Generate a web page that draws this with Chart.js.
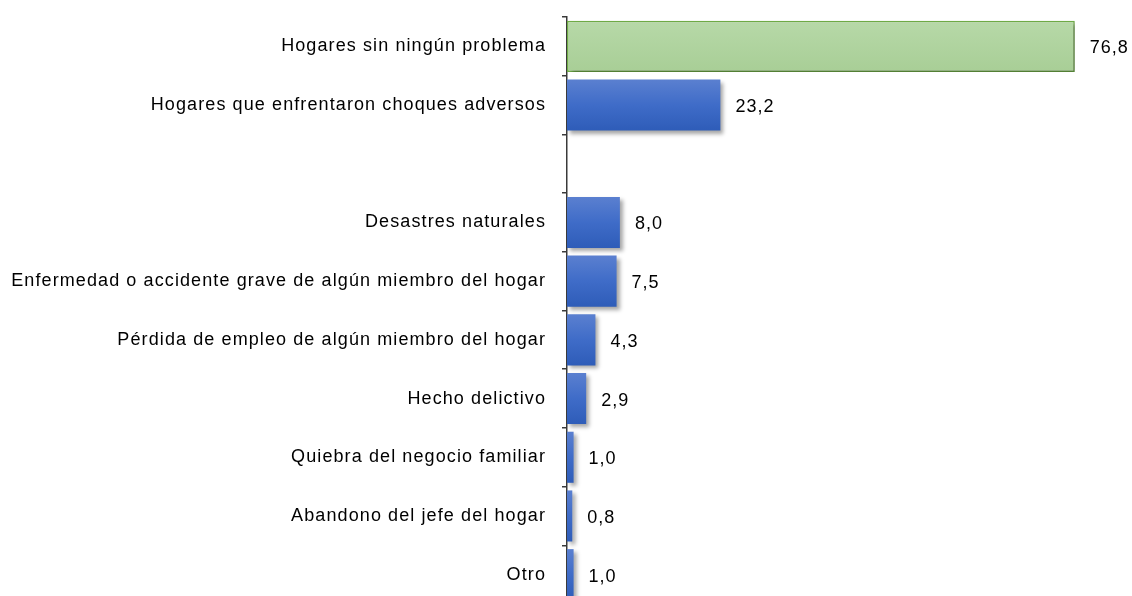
<!DOCTYPE html>
<html>
<head>
<meta charset="utf-8">
<script src="https://cdn.jsdelivr.net/npm/chart.js@4.4.1/dist/chart.umd.min.js"></script>
<style>
  html, body { margin: 0; padding: 0; background: #fff; overflow: hidden; }
  #wrap { position: relative; width: 1132px; height: 610px; }
</style>
</head>
<body>
<div id="wrap"><canvas id="chart"></canvas></div>
<script>
const categories = [
  'Hogares sin ningún problema',
  'Hogares que enfrentaron choques adversos',
  '',
  'Desastres naturales',
  'Enfermedad o accidente grave de algún miembro del hogar',
  'Pérdida de empleo de algún miembro del hogar',
  'Hecho delictivo',
  'Quiebra del negocio familiar',
  'Abandono del jefe del hogar',
  'Otro',
];
const values = [76.8, 23.2, null, 8.0, 7.5, 4.3, 2.9, 1.0, 0.8, 1.0];

const TEXT = '#000';
const FONT = "'Liberation Sans', Arial, sans-serif";

function barGradient(context) {
  const chart = context.chart;
  const i = context.dataIndex;
  const green = i === 0;
  const yScale = chart.scales.y;
  if (!chart.chartArea || !yScale) return green ? '#b0d4a0' : '#3f6bc6';
  const center = yScale.getPixelForValue(i);
  const half = 26;
  const g = chart.ctx.createLinearGradient(0, center - half, 0, center + half);
  if (green) {
    g.addColorStop(0, '#b7d9a8');
    g.addColorStop(1, '#a8ce96');
  } else {
    g.addColorStop(0, '#5b80d0');
    g.addColorStop(0.5, '#3f6cc8');
    g.addColorStop(1, '#2e5cb8');
  }
  return g;
}

// drop shadow under the bars
const barShadow = {
  id: 'barShadow',
  beforeDatasetsDraw(chart) {
    const ctx = chart.ctx;
    ctx.save();
    ctx.shadowColor = 'rgba(0,0,0,0.35)';
    ctx.shadowOffsetX = 3;
    ctx.shadowOffsetY = 3;
    ctx.shadowBlur = 4;
  },
  afterDatasetsDraw(chart) {
    chart.ctx.restore();
  },
};

const textSpacing = {
  id: 'textSpacing',
  beforeDraw(chart) {
    chart.ctx.letterSpacing = '1.1px';
  },
};

// value labels at bar ends, comma decimal
const valueLabels = {
  id: 'valueLabels',
  afterDatasetsDraw(chart) {
    const ctx = chart.ctx;
    const meta = chart.getDatasetMeta(0);
    ctx.save();
    ctx.letterSpacing = '1px';
    ctx.font = '18px ' + FONT;
    ctx.fillStyle = TEXT;
    ctx.textAlign = 'left';
    ctx.textBaseline = 'middle';
    meta.data.forEach((bar, i) => {
      const v = values[i];
      if (v === null) return;
      ctx.fillText(v.toFixed(1).replace('.', ','), bar.x + 15, bar.y + 2);
    });
    ctx.restore();
  },
};

new Chart(document.getElementById('chart'), {
  type: 'bar',
  data: {
    labels: categories,
    datasets: [{
      data: values,
      backgroundColor: barGradient,
      borderColor: ctx => ctx.dataIndex === 0 ? '#70ad47' : 'rgba(0,0,0,0)',
      borderWidth: ctx => ctx.dataIndex === 0 ? 1.5 : 0,
      borderSkipped: false,
      categoryPercentage: 1,
      barPercentage: 0.87,
    }],
  },
  options: {
    indexAxis: 'y',
    responsive: true,
    maintainAspectRatio: false,
    animation: false,
    layout: { padding: { top: 17, bottom: 6, right: 3, left: 0 } },
    plugins: {
      legend: { display: false },
      tooltip: { enabled: false },
    },
    scales: {
      x: {
        display: false,
        min: 0,
        max: 85,
      },
      y: {
        afterFit: scale => {
          scale.width = 567;
          scale.paddingTop = 0;
          scale.paddingBottom = 0;
        },
        border: { display: true, color: '#3a3a3a', width: 1.5 },
        grid: {
          display: true,
          drawOnChartArea: false,
          drawTicks: true,
          tickLength: 5,
          color: '#3a3a3a',
          lineWidth: 1.5,
          offset: true,
        },
        ticks: {
          color: TEXT,
          padding: 16,
          autoSkip: false,
          font: { family: FONT, size: 18 },
        },
      },
    },
  },
  plugins: [textSpacing, barShadow, valueLabels],
});
</script>
</body>
</html>
